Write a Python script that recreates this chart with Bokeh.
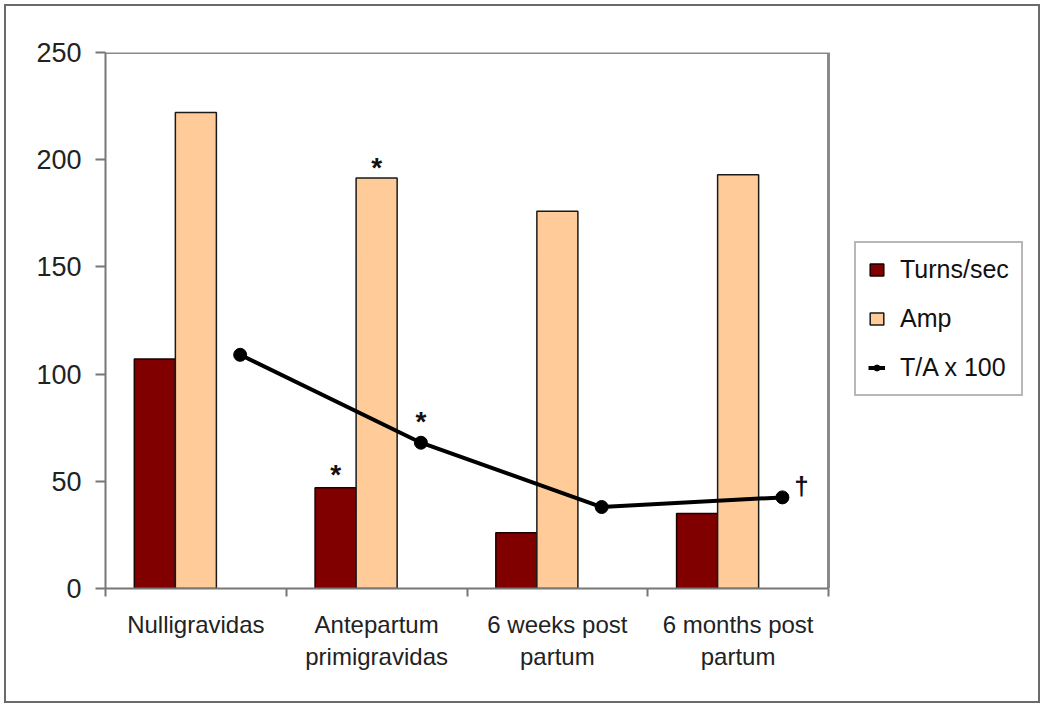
import numpy as np
from bokeh.plotting import figure
from bokeh.layouts import column
from bokeh.models import Range1d, FixedTicker, Legend, LegendItem, ColumnDataSource
from bokeh.core.properties import value
from bokeh.embed import file_html
from bokeh.resources import INLINE

# ---- data ----
categories = ["Nulligravidas", "Antepartum\nprimigravidas", "6 weeks post\npartum", "6 months post\npartum"]
turns_per_sec = [107, 47, 26, 35]
amp = [222, 191.5, 176, 193]
ta_x100 = [109, 68, 38, 42.5]
turns_marks = ["", "*", "", ""]
amp_marks = ["", "*", "", ""]
ta_marks_above = ["", "*", "", ""]
ta_marks_right = ["", "", "", "\u2020"]
y_ticks = [0, 50, 100, 150, 200, 250]
y_max = 250
series_names = ["Turns/sec", "Amp", "T/A x 100"]

FONT = "Liberation Sans"
n = len(categories)
centers = np.arange(n) + 0.5
BAR_W = 0.227

# layout (pixels)
PLOT_W = 723          # width of the category area
FRAME_W = 931         # frame also hosts the legend on its right
FRAME_H = 536

src = ColumnDataSource(dict(
    x_turns=centers - BAR_W,
    x_amp=centers,
    x_ta=centers + 0.245,
    turns=turns_per_sec,
    amp=amp,
    ta=ta_x100,
    m_turns=turns_marks,
    m_amp=amp_marks,
    m_ta=ta_marks_above,
    m_ta_r=ta_marks_right,
))

p = figure(frame_width=FRAME_W, frame_height=FRAME_H, output_backend="svg", toolbar_location=None,
           x_range=Range1d(0, n * FRAME_W / PLOT_W), y_range=Range1d(0, y_max),
           min_border_left=99, min_border_top=46, min_border_right=2, min_border_bottom=113)
p.xgrid.visible = False
p.ygrid.visible = False
p.outline_line_color = None
p.background_fill_color = "white"
p.border_fill_color = "white"

# plot-area box (top and right edges)
p.line(x=[0, n, n], y=[y_max, y_max, 0], line_color="#8a8a8a", line_width=3)

r_turns = p.vbar(x="x_turns", top="turns", width=BAR_W, source=src,
                 fill_color="#800000", line_color="#1a0000", line_width=1.5)
r_amp = p.vbar(x="x_amp", top="amp", width=BAR_W, source=src,
               fill_color="#FFCC99", line_color="#1a1a1a", line_width=1.5)
r_line = p.line(x="x_ta", y="ta", source=src, line_color="black", line_width=4)
r_pts = p.scatter(x="x_ta", y="ta", source=src, size=13, fill_color="black", line_color="black")

mk = dict(text_font=value(FONT), text_font_size="28px", text_color="#111111",
          text_align="center", text_baseline="alphabetic", text_font_style="bold")
p.text(x="x_turns", y="turns", text="m_turns", source=src, y_offset=-13, **mk)
p.text(x="x_amp", y="amp", text="m_amp", source=src, y_offset=-10, **mk)
p.text(x="x_ta", y="ta", text="m_ta", source=src, y_offset=-21, **mk)
p.text(x="x_ta", y="ta", text="m_ta_r", source=src, x_offset=19, y_offset=-11,
       text_font=value(FONT), text_font_size="26px", text_color="#111111",
       text_align="center", text_baseline="alphabetic", text_font_style="bold")

# y axis
ya = p.yaxis[0]
ya.ticker = FixedTicker(ticks=y_ticks)
ya.minor_tick_line_color = None
ya.major_tick_out = 10
ya.major_tick_in = 0
ya.major_label_standoff = 14
ya.major_label_text_font = FONT
ya.major_label_text_font_size = "27px"
ya.major_label_text_color = "#222222"
ya.axis_line_color = "#777777"
ya.axis_line_width = 2
ya.major_tick_line_color = "#777777"
ya.major_tick_line_width = 2

# x axis
xa = p.xaxis[0]
xa.bounds = (0, n)
xa.ticker = FixedTicker(ticks=list(centers), minor_ticks=list(range(n + 1)))
xa.major_label_overrides = {float(c): lab for c, lab in zip(centers, categories)}
xa.major_tick_out = 0
xa.major_tick_in = 0
xa.minor_tick_out = 8
xa.minor_tick_in = 0
xa.minor_tick_line_color = "#777777"
xa.minor_tick_line_width = 2
xa.major_label_standoff = 14
xa.major_label_text_font = FONT
xa.major_label_text_font_size = "24px"
xa.major_label_text_color = "#222222"
xa.axis_line_color = "#777777"
xa.axis_line_width = 2

legend = Legend(items=[
    LegendItem(label=series_names[0], renderers=[r_turns]),
    LegendItem(label=series_names[1], renderers=[r_amp]),
    LegendItem(label=series_names[2], renderers=[r_line, r_pts]),
], location=(749, 192))
legend.label_text_font = FONT
legend.label_text_font_size = "25px"
legend.label_text_color = "#111111"
legend.label_height = 20
legend.glyph_height = 15
legend.glyph_width = 17
legend.spacing = 20
legend.padding = 12
legend.label_standoff = 15
legend.border_line_color = "#6f6f6f"
legend.border_line_width = 2
legend.background_fill_color = "white"
legend.background_fill_alpha = 1
p.add_layout(legend, "center")

layout = column(p, styles={"border": "2px solid #6a6a6a", "background-color": "white",
                           "margin-left": "4px", "margin-top": "4px"})

open("out.html", "w").write(file_html(layout, INLINE))
